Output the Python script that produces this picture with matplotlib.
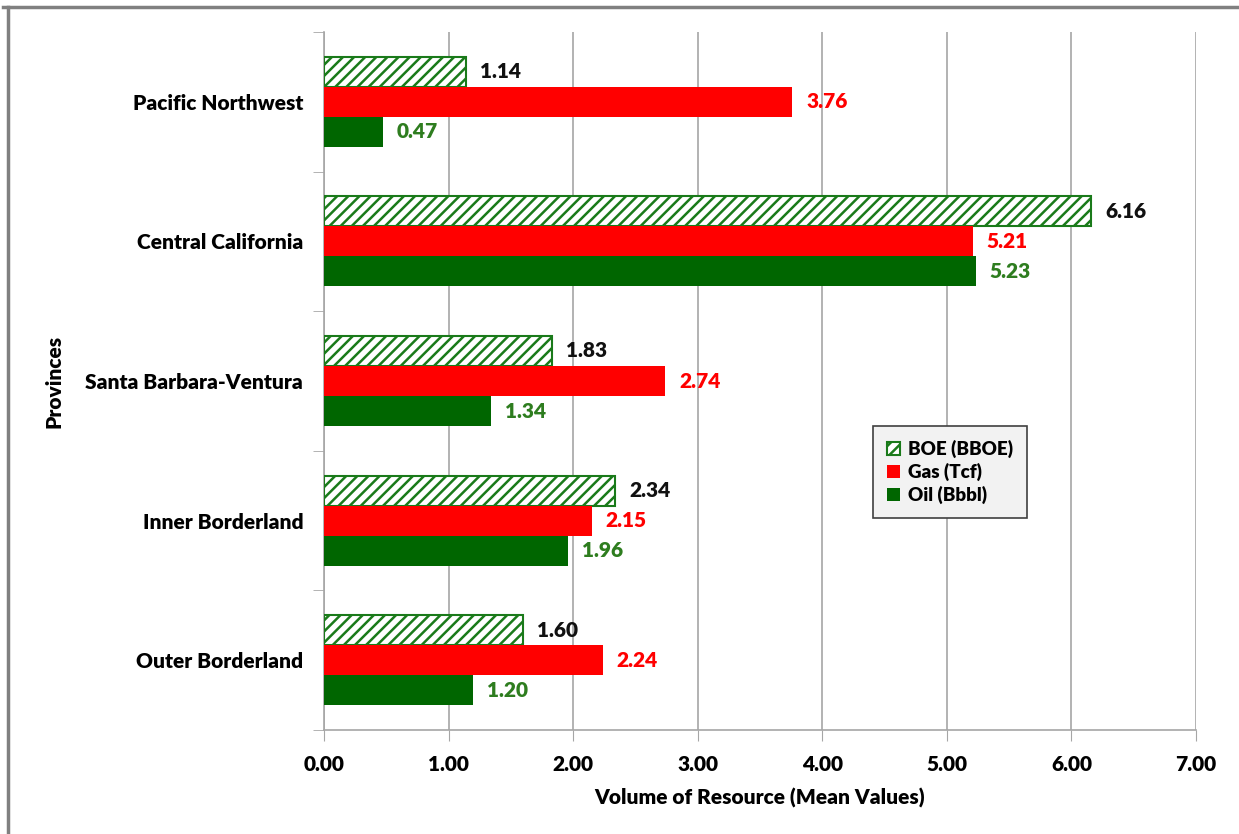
import matplotlib
matplotlib.use("Agg")
import matplotlib.pyplot as plt
from matplotlib.lines import Line2D
import numpy as np

provinces = ["Pacific Northwest", "Central California", "Santa Barbara-Ventura",
             "Inner Borderland", "Outer Borderland"]
boe = [1.14, 6.16, 1.83, 2.34, 1.60]
gas = [3.76, 5.21, 2.74, 2.15, 2.24]
oil = [0.47, 5.23, 1.34, 1.96, 1.20]
series_labels = ["BOE (BBOE)", "Gas (Tcf)", "Oil (Bbbl)"]
xticks = [0, 1, 2, 3, 4, 5, 6, 7]

plt.rcParams['font.family'] = ['Lato', 'DejaVu Sans']
plt.rcParams['font.weight'] = 'heavy'
plt.rcParams['hatch.linewidth'] = 1.8
plt.rcParams['hatch.color'] = '#1a7a1a'

fig = plt.figure(figsize=(12.39, 8.34), dpi=100)
L, R, T, B = 324, 1196, 32, 730
ax = fig.add_axes([L/1239, 1-B/834, (R-L)/1239, (B-T)/834])

green = '#006600'
red = '#ff0000'
n = len(provinces)
y = np.arange(n)[::-1].astype(float)  # top category first
h = 0.215
W = 'heavy'

ax.barh(y + h, boe, height=h, color='white', edgecolor='#1a7a1a', hatch='///',
        linewidth=1.5, label=series_labels[0], zorder=3)
ax.barh(y, gas, height=h, color=red, label=series_labels[1], zorder=3)
ax.barh(y - h, oil, height=h, color=green, label=series_labels[2], zorder=3)

fs = 15
off = 0.11
for i in range(n):
    ax.text(boe[i] + off, y[i] + h, f"{boe[i]:.2f}", va='center', ha='left',
            fontsize=fs, fontweight=W, color='#111111')
    ax.text(gas[i] + off, y[i], f"{gas[i]:.2f}", va='center', ha='left',
            fontsize=fs, fontweight=W, color=red)
    ax.text(oil[i] + off, y[i] - h, f"{oil[i]:.2f}", va='center', ha='left',
            fontsize=fs, fontweight=W, color='#2e7d1f')

ax.set_xlim(0, 7)
ax.set_ylim(-0.5, n - 0.5)
ax.set_xticks(xticks)
ax.set_xticklabels([f"{v:.2f}" for v in xticks], fontsize=fs, fontweight=W)
ax.set_yticks(y)
ax.set_yticklabels(provinces, fontsize=fs, fontweight=W)
ax.tick_params(axis='y', length=0, pad=15)
ax.set_yticks(np.arange(-0.5, n, 1.0), minor=True)
ax.tick_params(axis='y', which='minor', length=8, color='#a6a6a6', direction='out')
ax.tick_params(axis='x', length=8, color='#a6a6a6', direction='out', pad=10)

ax.grid(axis='x', color='#a6a6a6', linewidth=1.2, zorder=0)
ax.set_axisbelow(True)
for s in ['top', 'right']:
    ax.spines[s].set_visible(False)
for s in ['left', 'bottom']:
    ax.spines[s].set_color('#a6a6a6')
    ax.spines[s].set_linewidth(1.2)

ax.set_xlabel("Volume of Resource (Mean Values)", fontsize=fs, fontweight=W, labelpad=10)
ax.set_ylabel("Provinces", fontsize=fs, fontweight=W, labelpad=16)

leg = ax.legend(loc='upper left', bbox_to_anchor=((873-L)/(R-L), 1-(426-T)/(B-T)),
                frameon=True, fancybox=False, handlelength=0.7,
                handleheight=0.7, handletextpad=0.4, borderpad=0.75, labelspacing=0.25,
                borderaxespad=0, prop={'weight': W, 'size': 13.5})
leg.get_frame().set_facecolor('#f2f2f2')
leg.get_frame().set_edgecolor('#404040')
leg.get_frame().set_linewidth(1.2)
leg.get_frame().set_alpha(1)

# chart frame (top and left edges visible)
fig.add_artist(Line2D([3/1239, 1], [1-7/834, 1-7/834], transform=fig.transFigure,
                      color='#808080', linewidth=2.5))
fig.add_artist(Line2D([8/1239, 8/1239], [0, 1-7/834], transform=fig.transFigure,
                      color='#808080', linewidth=2.5))

fig.savefig("out.png", dpi=100)
